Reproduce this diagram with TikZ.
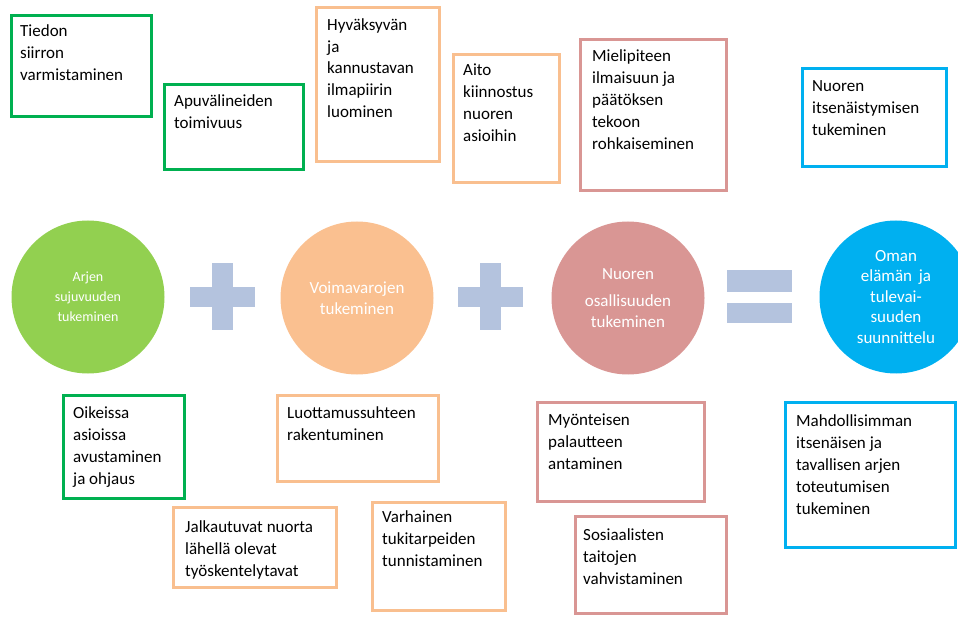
\documentclass[tikz,border=0pt]{standalone}
\usepackage{fontspec}
\setmainfont{Carlito}
\definecolor{grnline}{HTML}{00B050}
\definecolor{orgline}{HTML}{F9BF8F}
\definecolor{roseline}{HTML}{D99694}
\definecolor{bluline}{HTML}{00B0F0}
\definecolor{grnball}{HTML}{92D050}
\definecolor{orgball}{HTML}{FAC090}
\definecolor{signcol}{HTML}{B4C3DE}

\begin{document}
\begin{tikzpicture}[x=1pt,y=-1pt,
    ball/.style={circle,minimum size=153pt,inner sep=0pt,align=center,text=white,font=\fontsize{17}{20.5}\selectfont},
    boxline/.style={line width=3pt},
    txt/.style={anchor=north west,inner sep=0pt,align=left,font=\fontsize{17}{22}\selectfont}]
  \useasboundingbox (0,0) rectangle (958,617);

  %% boxes above
  \draw[boxline,grnline] (11,16) rectangle (151,117);
  \node[txt] (tiedon) at (20,25) {Tiedon\\siirron\\varmistaminen};
  \draw[boxline,grnline] (164,85) rectangle (303,170);
  \node[txt] (apuv) at (174,94) {Apuvälineiden\\toimivuus};
  \draw[boxline,orgline] (316,8) rectangle (439,162);
  \node[txt] (hyvak) at (327,18) {Hyväksyvän\\ja\\kannustavan\\ilmapiirin\\luominen};
  \draw[boxline,orgline] (453,55) rectangle (559,183);
  \node[txt] (aito) at (463,64) {Aito\\kiinnostus\\nuoren\\asioihin};
  \draw[boxline,roseline] (580,40) rectangle (726,191);
  \node[txt] (mieli) at (592,49) {Mielipiteen\\ilmaisuun ja\\päätöksen\\tekoon\\rohkaiseminen};
  \draw[boxline,bluline] (802,69) rectangle (946,167);
  \node[txt] (itsen) at (812,80) {Nuoren\\itsenäistymisen\\tukeminen};

  %% circles and signs
  \node[ball,fill=grnball,font=\fontsize{14}{20}\selectfont] (arjen) at (88,297) {Arjen\\sujuvuuden\\tukeminen};
  \fill[signcol] (190,287) rectangle (255,307);
  \fill[signcol] (212,263) rectangle (233,330);
  \node[ball,fill=orgball] (voima) at (357,298) {Voimavarojen\\tukeminen};
  \fill[signcol] (458,287) rectangle (523,307);
  \fill[signcol] (480,263) rectangle (501,330);
  \node[ball,fill=roseline] (osall) at (628,298) {Nuoren\\[7pt]osallisuuden\\tukeminen};
  \fill[signcol] (727,270) rectangle (792,292);
  \fill[signcol] (727,303) rectangle (792,323);
  \node[ball,fill=bluline] (oman) at (896,297) {Oman\\elämän\, ja\\tulevai-\\suuden\\suunnittelu};

  %% boxes below
  \draw[boxline,grnline] (63,395) rectangle (184,498);
  \node[txt] (oikeis) at (73,406) {Oikeissa\\asioissa\\avustaminen\\ja ohjaus};
  \draw[boxline,orgline] (277,395) rectangle (438,481);
  \node[txt] (luott) at (287,406) {Luottamussuhteen\\rakentuminen};
  \draw[boxline,orgline] (173,507) rectangle (336,587);
  \node[txt] (jalka) at (185,520) {Jalkautuvat nuorta\\lähellä olevat\\työskentelytavat};
  \draw[boxline,orgline] (372,502) rectangle (505,610);
  \node[txt] (varh) at (382,510) {Varhainen\\tukitarpeiden\\tunnistaminen};
  \draw[boxline,roseline] (537,402) rectangle (704,501);
  \node[txt] (myont) at (548,414) {Myönteisen\\palautteen\\antaminen};
  \draw[boxline,roseline] (575,516) rectangle (726,613);
  \node[txt] (sosi) at (583,528) {Sosiaalisten\\taitojen\\vahvistaminen};
  \draw[boxline,bluline] (785,402) rectangle (955,547);
  \node[txt] (mahd) at (796,414) {Mahdollisimman\\itsenäisen ja\\tavallisen arjen\\toteutumisen\\tukeminen};
\end{tikzpicture}
\end{document}
